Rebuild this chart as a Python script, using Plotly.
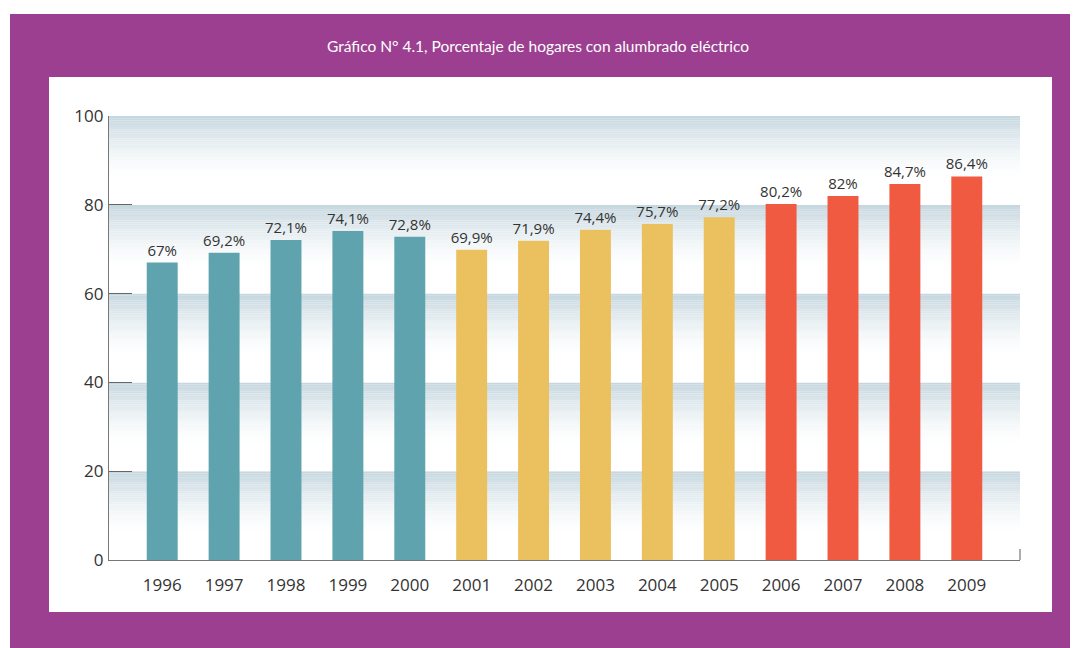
import plotly.graph_objects as go

# Datos
anios = ["1996", "1997", "1998", "1999", "2000", "2001", "2002",
         "2003", "2004", "2005", "2006", "2007", "2008", "2009"]
porcentajes = [67, 69.2, 72.1, 74.1, 72.8, 69.9, 71.9,
               74.4, 75.7, 77.2, 80.2, 82, 84.7, 86.4]
grupos = ["a"] * 5 + ["b"] * 5 + ["c"] * 4
y_ticks = [0, 20, 40, 60, 80, 100]

# Colores
colores_grupo = {"a": "#5fa3ae", "b": "#ebc05f", "c": "#ef5a41"}
morado = "#9c3f91"

# la pagina deja 8px de margen, todo se mide en pixeles de la pagina
OFF = 8
W, H = 1078 - OFF, 648 - OFF
L, R, T, B = 109 - OFF, 1020 - OFF, 116 - OFF, 560 - OFF


def px_x(p):
    return (p - OFF - L) / (R - L)


def px_y(p):
    return (B - (p - OFF)) / (B - T)


etiquetas = [f"{v:g}".replace(".", ",") + "%" for v in porcentajes]
xs = list(range(len(anios)))

fig = go.Figure()
fig.add_trace(go.Bar(
    x=xs, y=porcentajes, width=0.5,
    marker_color=[colores_grupo[g] for g in grupos],
    marker_line_width=0,
    text=etiquetas, textposition="outside", cliponaxis=False,
    constraintext="none",
    textfont=dict(size=15, color="#333333", family="Open Sans"),
    hoverinfo="skip",
))

shapes = []
# marco morado y panel blanco
shapes.append(dict(type="rect", xref="paper", yref="paper", layer="below",
                   x0=px_x(10), x1=px_x(1100), y0=px_y(14), y1=px_y(660),
                   fillcolor=morado, line_width=0))
shapes.append(dict(type="rect", xref="paper", yref="paper", layer="below",
                   x0=px_x(49), x1=px_x(1052), y0=px_y(77), y1=px_y(612),
                   fillcolor="white", line_width=0))

# bandas degradadas
top = (196, 214, 222)
pasos = 40
for base in y_ticks[1:]:
    for i in range(pasos):
        t0 = (i + 0.5) / pasos
        f = max(0.0, 1 - t0 / 0.7) ** 1.5
        c = tuple(round(255 - (255 - k) * f) for k in top)
        shapes.append(dict(type="rect", xref="paper", yref="y", layer="below",
                           x0=0, x1=1, y0=base - 20 * (i + 1) / pasos,
                           y1=base - 20 * i / pasos,
                           fillcolor=f"rgb{c}", line_width=0))

# pequena marca al final del eje x
shapes.append(dict(type="line", xref="paper", yref="paper",
                   x0=1, x1=1, y0=0, y1=px_y(549),
                   line=dict(color="#777777", width=1.2)))

fig.update_layout(
    width=W, height=H,
    margin=dict(l=L, r=W - R, t=T, b=H - B),
    paper_bgcolor="white",
    plot_bgcolor="rgba(0,0,0,0)",
    shapes=shapes,
    showlegend=False,
    font=dict(family="Open Sans", color="#333333"),
    title=dict(text="Gráfico N° 4.1, Porcentaje de hogares con alumbrado eléctrico",
               x=(538 - OFF) / W, xanchor="center", y=1 - (47 - OFF) / H,
               yanchor="middle",
               font=dict(size=15.5, color="white", family="Lato")),
)
fig.update_xaxes(
    range=[-0.86, len(anios) - 1 + 0.86],
    tickvals=xs, ticktext=anios, ticks="",
    showgrid=False, zeroline=False,
    showline=True, linecolor="#777777", linewidth=1.2,
    tickfont=dict(size=17, color="#333333"), ticklabelstandoff=9,
)
fig.update_yaxes(
    range=[0, 100], tickvals=y_ticks,
    ticks="inside", ticklen=23, tickcolor="#666666", tickwidth=1,
    showgrid=False, zeroline=False,
    showline=True, linecolor="#777777", linewidth=1.2,
    tickfont=dict(size=17, color="#333333"), ticklabelstandoff=1,
)

fig.write_html("out.html")
